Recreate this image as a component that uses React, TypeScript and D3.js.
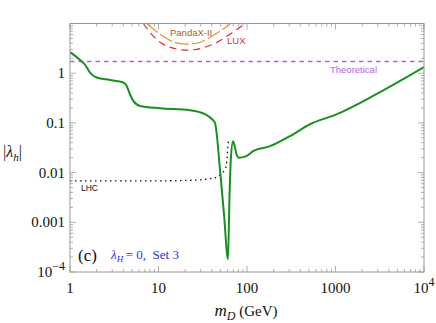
import React, { useEffect, useRef } from 'react';
import * as d3 from 'd3';

// green curve: |lambda_h| vs m_D
const mainMass = [1, 1.3, 1.48, 1.68, 2.0, 2.83, 4.0, 4.37, 4.76, 5.19, 6.19, 10.4, 22.7, 33.5, 40, 43.5, 45, 49.5, 55, 61, 63.3, 65.6, 69.5, 73, 77, 81, 95, 108, 117, 182, 305, 515, 1038, 2595, 10000];
const mainVal = [2.65, 1.85, 1.48, 1.03, 0.82, 0.73, 0.65, 0.555, 0.377, 0.277, 0.219, 0.197, 0.18, 0.15, 0.12, 0.1, 0.07, 0.0116, 0.00144, 0.00018, 0.0029, 0.018, 0.0426, 0.032, 0.022, 0.02, 0.021, 0.024, 0.027, 0.034, 0.054, 0.094, 0.15, 0.34, 1.32];

// LHC bound (dotted)
const lhcMass = [1, 8, 22.7, 41, 52, 58, 60, 61.5];
const lhcVal = [0.0068, 0.0068, 0.007, 0.0077, 0.0097, 0.013, 0.024, 0.042];

// direct detection bounds
const pandaMass = [7.4, 10.4, 14.2, 19.9, 27.2, 35.3, 49.5, 64.3];
const pandaVal = [10, 6.1, 4.4, 3.84, 4.0, 4.85, 7.0, 9.7];
const luxMass = [6.73, 8.67, 11.8, 21, 41.3, 64.3, 94.9];
const luxVal = [10, 5.65, 3.67, 2.91, 3.84, 6.1, 10];

const theoretical = 1.72;

const xTicks = [1, 10, 100, 1000, 10000];
const xTickLabels = ['1', '10', '100', '1000', '10^4'];
const yTicks = [0.0001, 0.001, 0.01, 0.1, 1, 10];
const yTickLabels = ['10^-4', '0.001', '0.01', '0.1', '1', ''];

const App = () => {
  const svgRef = useRef<SVGSVGElement>(null);

  useEffect(() => {
    const svg = d3.select(svgRef.current);
    svg.selectAll('*').remove();

    const margin = { top: 23.5, right: 12, bottom: 51, left: 70 };
    const width = 436;
    const height = 323;

    const x = d3.scaleLog().domain([1, 10000]).range([margin.left, width - margin.right]);
    const y = d3.scaleLog().domain([0.0001, 10]).range([height - margin.bottom, margin.top]);

    const serif = '"Liberation Serif", "Times New Roman", serif';
    const sans = '"Liberation Sans", Arial, sans-serif';

    svg.append('defs').append('clipPath').attr('id', 'plotclip')
      .append('rect')
      .attr('x', margin.left).attr('y', margin.top)
      .attr('width', width - margin.left - margin.right)
      .attr('height', height - margin.top - margin.bottom);

    const plot = svg.append('g').attr('clip-path', 'url(#plotclip)');

    const line = d3.line<[number, number]>()
      .x(d => x(d[0]))
      .y(d => y(d[1]))
      .curve(d3.curveMonotoneX);

    // theoretical line
    const ty = Math.round(y(theoretical)) + 0.5;
    plot.append('line')
      .attr('x1', margin.left).attr('x2', width - margin.right)
      .attr('y1', ty).attr('y2', ty)
      .attr('stroke', '#b65cd0').attr('stroke-width', 1.3)
      .attr('stroke-dasharray', '4.5,4');

    plot.append('path')
      .datum(luxMass.map((m, i) => [m, luxVal[i]] as [number, number]))
      .attr('d', line).attr('fill', 'none')
      .attr('stroke', '#e8262b').attr('stroke-width', 1.2)
      .attr('stroke-dasharray', '7,5');

    plot.append('path')
      .datum(pandaMass.map((m, i) => [m, pandaVal[i]] as [number, number]))
      .attr('d', line).attr('fill', 'none')
      .attr('stroke', '#e8902f').attr('stroke-width', 1.2)
      .attr('stroke-dasharray', '14,3');

    plot.append('path')
      .datum(lhcMass.map((m, i) => [m, lhcVal[i]] as [number, number]))
      .attr('d', line).attr('fill', 'none')
      .attr('stroke', '#111').attr('stroke-width', 1.3)
      .attr('stroke-dasharray', '1.5,3.5');

    plot.append('path')
      .datum(mainMass.map((m, i) => [m, mainVal[i]] as [number, number]))
      .attr('d', line).attr('fill', 'none')
      .attr('stroke', '#17901e').attr('stroke-width', 2)
      .attr('stroke-linejoin', 'round');

    // frame
    const x0 = margin.left, x1 = width - margin.right;
    const y0 = margin.top, y1 = height - margin.bottom;
    const frameColor = '#999';
    svg.append('rect')
      .attr('x', x0).attr('y', y0).attr('width', x1 - x0).attr('height', y1 - y0)
      .attr('fill', 'none').attr('stroke', frameColor).attr('stroke-width', 1);

    // ticks
    const ticksG = svg.append('g').attr('stroke', frameColor).attr('stroke-width', 0.8);
    const xMinor: number[] = [];
    for (let d = 1; d < 10000; d *= 10) for (let k = 2; k <= 9; k++) xMinor.push(d * k);
    const yMinor: number[] = [];
    for (let d = 0.0001; d < 9; d *= 10) for (let k = 2; k <= 9; k++) yMinor.push(d * k);

    xTicks.forEach(t => {
      ticksG.append('line').attr('x1', x(t)).attr('x2', x(t)).attr('y1', y1).attr('y2', y1 - 6);
      ticksG.append('line').attr('x1', x(t)).attr('x2', x(t)).attr('y1', y0).attr('y2', y0 + 6);
    });
    xMinor.forEach(t => {
      ticksG.append('line').attr('x1', x(t)).attr('x2', x(t)).attr('y1', y1).attr('y2', y1 - 3);
      ticksG.append('line').attr('x1', x(t)).attr('x2', x(t)).attr('y1', y0).attr('y2', y0 + 3);
    });
    yTicks.forEach(t => {
      ticksG.append('line').attr('y1', y(t)).attr('y2', y(t)).attr('x1', x0).attr('x2', x0 + 6);
      ticksG.append('line').attr('y1', y(t)).attr('y2', y(t)).attr('x1', x1).attr('x2', x1 - 6);
    });
    yMinor.forEach(t => {
      ticksG.append('line').attr('y1', y(t)).attr('y2', y(t)).attr('x1', x0).attr('x2', x0 + 3);
      ticksG.append('line').attr('y1', y(t)).attr('y2', y(t)).attr('x1', x1).attr('x2', x1 - 3);
    });

    // tick labels
    const addPow = (sel: any, label: string) => {
      if (label.startsWith('10^')) {
        sel.append('tspan').text('10');
        sel.append('tspan').attr('dy', -7).attr('font-size', 12)
          .text(label.slice(3).replace('-', '\u2212'));
      } else {
        sel.text(label);
      }
    };

    xTicks.forEach((t, i) => {
      const txt = svg.append('text')
        .attr('x', x(t)).attr('y', y1 + 21)
        .attr('text-anchor', 'middle')
        .attr('font-family', serif).attr('font-size', 15).attr('fill', '#111');
      addPow(txt, xTickLabels[i]);
    });
    yTicks.forEach((t, i) => {
      if (!yTickLabels[i]) return;
      const txt = svg.append('text')
        .attr('x', x0 - 5).attr('y', y(t) + 5)
        .attr('text-anchor', 'end')
        .attr('font-family', serif).attr('font-size', 15).attr('fill', '#111');
      addPow(txt, yTickLabels[i]);
    });

    // axis titles
    const yt = svg.append('text').attr('x', 3).attr('y', 157)
      .attr('font-family', serif).attr('font-size', 16).attr('fill', '#111');
    yt.append('tspan').text('|');
    yt.append('tspan').attr('font-style', 'italic').text('\u03bb');
    yt.append('tspan').attr('font-style', 'italic').attr('font-size', 11).attr('dy', 4).text('h');
    yt.append('tspan').attr('dy', -4).text('|');

    const xt = svg.append('text').attr('x', 246).attr('y', 316).attr('text-anchor', 'middle')
      .attr('font-family', serif).attr('font-size', 15).attr('fill', '#111');
    xt.append('tspan').attr('font-style', 'italic').attr('font-size', 17).text('m');
    xt.append('tspan').attr('font-style', 'italic').attr('font-size', 12).attr('dy', 4).text('D');
    xt.append('tspan').attr('dy', -4).text(' (GeV)');

    // annotations
    svg.append('text').attr('x', 78).attr('y', 261)
      .attr('font-family', serif).attr('font-size', 17).attr('fill', '#111').text('(c)');

    const lab = svg.append('text').attr('x', 111).attr('y', 259)
      .attr('font-family', serif).attr('font-size', 13).attr('fill', '#2b2bff');
    lab.append('tspan').attr('font-style', 'italic').text('\u03bb');
    lab.append('tspan').attr('font-style', 'italic').attr('font-size', 9).attr('dy', 3).text('H');
    lab.append('tspan').attr('dy', -3).text('\u2009= 0,\u2002Set 3');

    svg.append('text').attr('x', 81).attr('y', 191)
      .attr('font-family', sans).attr('font-size', 8.5).attr('fill', '#111').text('LHC');
    svg.append('text').attr('x', 330).attr('y', 73)
      .attr('font-family', sans).attr('font-size', 9.5).attr('fill', '#b066ee').text('Theoretical');
    svg.append('text').attr('x', 170).attr('y', 36)
      .attr('font-family', sans).attr('font-size', 9.5).attr('fill', '#a0642a').text('PandaX-II');
    svg.append('text').attr('x', 227).attr('y', 44)
      .attr('font-family', sans).attr('font-size', 9.5).attr('fill', '#d63030').text('LUX');
  }, []);

  return (
    <svg ref={svgRef} width={436} height={323} style={{ position: 'absolute', left: 0, top: 0 }} />
  );
};

export default App;
